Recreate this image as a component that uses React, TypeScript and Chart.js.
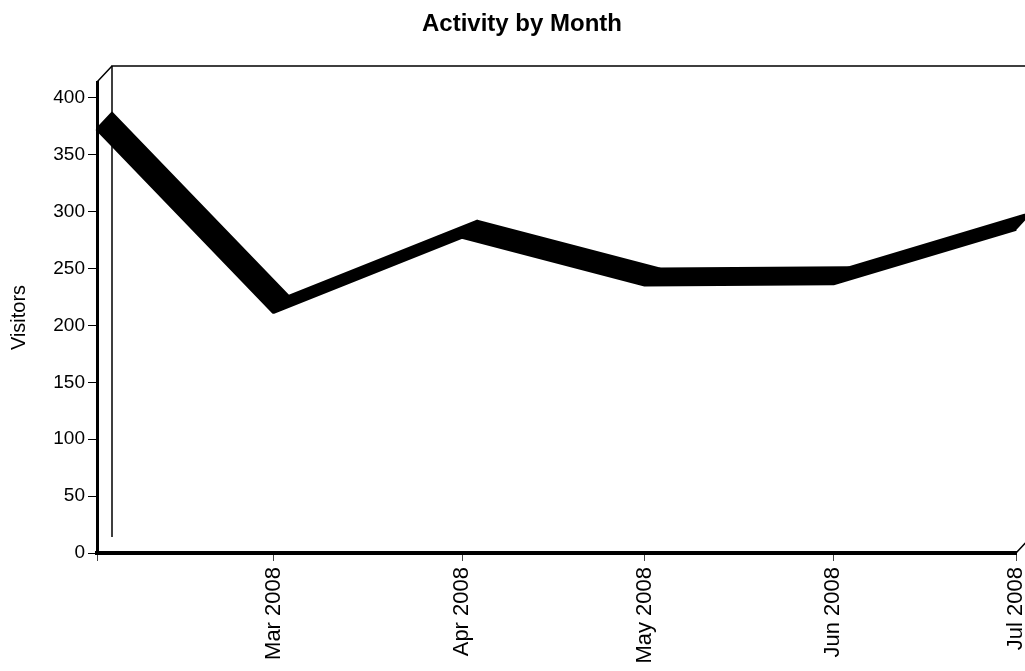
import React, { useEffect, useRef } from 'react';
import { Chart, registerables } from 'chart.js';

Chart.register(...registerables);

// ---- data ----
const YEAR = 2008;
const monthIndexes = [1, 2, 3, 4, 5, 6]; // Feb .. Jul (JS 0-based months)
const tickLabels = ['', 'Mar 2008', 'Apr 2008', 'May 2008', 'Jun 2008', 'Jul 2008'];
const visitors = [373, 212, 278, 236, 237, 285];
const yTickValues = [0, 50, 100, 150, 200, 250, 300, 350, 400];
const chartTitle = 'Activity by Month';
const yAxisTitle = 'Visitors';

const DAY_MS = 86400000;
const originMs = Date.UTC(YEAR, monthIndexes[0], 1);
const dayOffsets = monthIndexes.map((m) => (Date.UTC(YEAR, m, 1) - originMs) / DAY_MS);

// ---- style ----
const FONT = "'Liberation Sans', Arial, Helvetica, sans-serif";
const DEPTH_X = 15;
const DEPTH_Y = 16;

const threeDPlugin = {
  id: 'threeD',
  afterLayout(chart: any) {
    const tb = chart.titleBlock;
    if (tb) {
      tb.left += 14;
      tb.right += 14;
    }
  },
  beforeDatasetsDraw(chart: any) {
    const { ctx, chartArea } = chart;
    const { left, right, top, bottom } = chartArea;
    ctx.save();
    ctx.strokeStyle = '#000';
    // back wall frame
    ctx.lineWidth = 1.5;
    ctx.beginPath();
    ctx.moveTo(left + DEPTH_X, bottom - DEPTH_Y);
    ctx.lineTo(left + DEPTH_X, top - DEPTH_Y);
    ctx.lineTo(right + DEPTH_X, top - DEPTH_Y);
    ctx.stroke();
    // connectors
    ctx.beginPath();
    ctx.moveTo(left, top);
    ctx.lineTo(left + DEPTH_X, top - DEPTH_Y);
    ctx.moveTo(right, bottom);
    ctx.lineTo(right + DEPTH_X, bottom - DEPTH_Y);
    ctx.stroke();

    // 3D ribbon
    const meta = chart.getDatasetMeta(0);
    const pts = meta.data.map((p: any) => ({ x: p.x, y: p.y }));
    ctx.fillStyle = '#000';
    ctx.lineWidth = 2;
    ctx.lineJoin = 'round';
    for (let i = 0; i < pts.length - 1; i++) {
      const a = pts[i];
      const b = pts[i + 1];
      ctx.beginPath();
      ctx.moveTo(a.x, a.y);
      ctx.lineTo(b.x, b.y);
      ctx.lineTo(b.x + DEPTH_X, b.y - DEPTH_Y);
      ctx.lineTo(a.x + DEPTH_X, a.y - DEPTH_Y);
      ctx.closePath();
      ctx.fill();
      ctx.stroke();
    }
    ctx.restore();
  },
};

export default function App() {
  const canvasRef = useRef<HTMLCanvasElement>(null);

  useEffect(() => {
    document.body.style.margin = '0';
    const canvas = canvasRef.current;
    if (!canvas) return;
    Chart.defaults.font.family = FONT;
    Chart.defaults.color = '#000';

    const chart = new Chart(canvas, {
      type: 'line',
      data: {
        datasets: [
          {
            label: yAxisTitle,
            data: dayOffsets.map((d, i) => ({ x: d, y: visitors[i] })),
            borderColor: '#000',
            backgroundColor: '#000',
            borderWidth: 4,
            borderJoinStyle: 'round',
            pointRadius: 0,
            tension: 0,
            clip: false as any,
          },
        ],
      },
      options: {
        animation: false,
        responsive: false,
        devicePixelRatio: 1,
        layout: { padding: { top: 0, right: 9, bottom: 0, left: 0 } },
        plugins: {
          legend: { display: false },
          tooltip: { enabled: false },
          title: {
            display: true,
            text: chartTitle,
            color: '#000',
            font: { size: 24, weight: 'bold', family: FONT },
            padding: { top: 10, bottom: 43.2 },
          },
        },
        scales: {
          x: {
            type: 'linear',
            min: dayOffsets[0],
            max: dayOffsets[dayOffsets.length - 1],
            afterBuildTicks: (s: any) => {
              s.ticks = dayOffsets.map((v) => ({ value: v }));
            },
            afterFit: (s: any) => {
              s.height = 118;
              s.paddingLeft = 0;
              s.paddingRight = 0;
            },
            ticks: {
              autoSkip: false,
              minRotation: 90,
              maxRotation: 90,
              padding: 6,
              color: '#000',
              font: { size: 22, family: FONT },
              callback: (_v: any, i: number) => tickLabels[i] ?? '',
            },
            grid: {
              drawOnChartArea: false,
              drawTicks: true,
              tickLength: 8,
              tickColor: '#444',
              tickWidth: 1,
            },
            border: { display: true, color: '#000', width: 4 },
          },
          y: {
            type: 'linear',
            min: 0,
            max: 414,
            afterBuildTicks: (s: any) => {
              s.ticks = yTickValues.map((v) => ({ value: v }));
            },
            afterFit: (s: any) => {
              s.width = 97;
              s.paddingTop = 0;
              s.paddingBottom = 0;
            },
            ticks: {
              autoSkip: false,
              padding: 3,
              color: '#000',
              font: { size: 19, family: FONT },
            },
            grid: {
              drawOnChartArea: false,
              drawTicks: true,
              tickLength: 9,
              tickColor: '#000',
              tickWidth: 1,
            },
            border: { display: true, color: '#000', width: 3 },
            title: {
              display: true,
              text: yAxisTitle,
              color: '#000',
              font: { size: 20, family: FONT },
              padding: { top: 7, bottom: 0 },
            },
          },
        },
      },
      plugins: [threeDPlugin],
    } as any);

    return () => chart.destroy();
  }, []);

  return (
    <div style={{ width: 1025, height: 671, background: '#fff' }}>
      <canvas
        ref={canvasRef}
        width={1025}
        height={671}
        style={{ display: 'block', width: 1025, height: 671 }}
      />
    </div>
  );
}
